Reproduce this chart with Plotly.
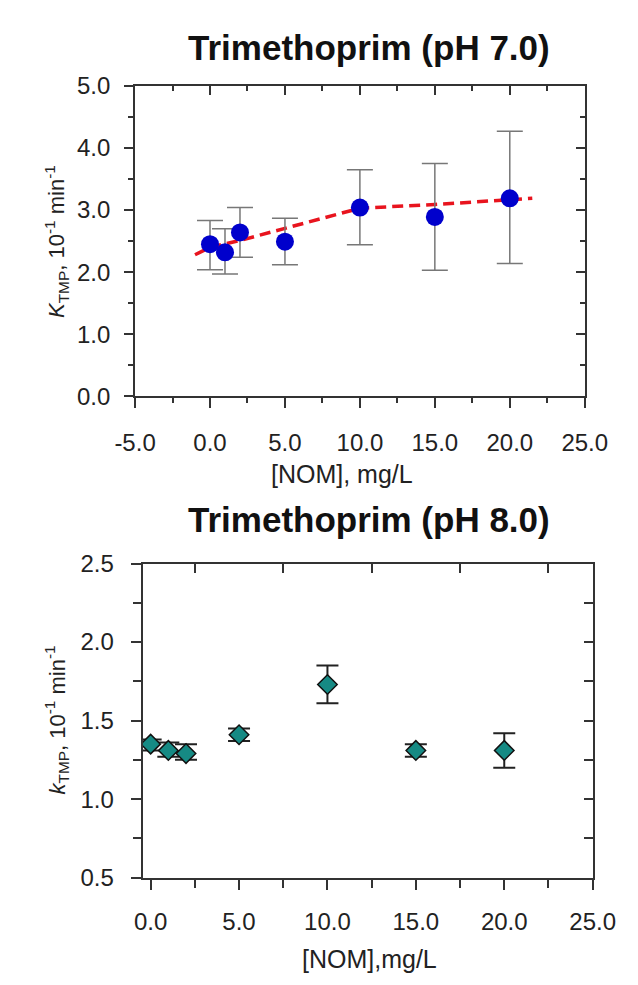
import plotly.graph_objects as go

# ---------------- data: Trimethoprim, pH 7.0 ----------------
nom_a = [0, 1, 2, 5, 10, 15, 20]
k_a = [2.45, 2.32, 2.64, 2.49, 3.04, 2.89, 3.19]
k_a_hi = [2.83, 2.70, 3.04, 2.87, 3.65, 3.75, 4.27]
k_a_lo = [2.04, 1.97, 2.24, 2.12, 2.44, 2.03, 2.14]
fit_x = [-1, 0, 2, 5, 8, 10, 15, 21.5]
fit_y = [2.28, 2.40, 2.51, 2.71, 2.91, 3.03, 3.09, 3.19]

# ---------------- data: Trimethoprim, pH 8.0 ----------------
nom_b = [0, 1, 2, 5, 10, 15, 20]
k_b = [1.35, 1.31, 1.29, 1.41, 1.73, 1.31, 1.31]
k_b_hi = [1.38, 1.36, 1.35, 1.45, 1.85, 1.35, 1.42]
k_b_lo = [1.31, 1.27, 1.25, 1.37, 1.61, 1.27, 1.20]

# ---------------- tick labels ----------------
xa_ticks = [-5, 0, 5, 10, 15, 20, 25]
xa_text = ["-5.0", "0.0", "5.0", "10.0", "15.0", "20.0", "25.0"]
ya_ticks = [0, 1, 2, 3, 4, 5]
ya_text = ["0.0", "1.0", "2.0", "3.0", "4.0", "5.0"]
xb_ticks = [0, 5, 10, 15, 20, 25]
xb_text = ["0.0", "5.0", "10.0", "15.0", "20.0", "25.0"]
yb_ticks = [0.5, 1.0, 1.5, 2.0, 2.5]
yb_text = ["0.5", "1.0", "1.5", "2.0", "2.5"]

W, H = 638, 985
FONT = "Liberation Sans, Arial, sans-serif"
AX = "#333333"
TXT = "#222222"


def mids(v):
    return [(a + b) / 2 for a, b in zip(v[:-1], v[1:])]


fig = go.Figure()

# pH 7.0 panel
fig.add_trace(go.Scatter(
    x=fit_x, y=fit_y, mode="lines", xaxis="x", yaxis="y",
    line=dict(color="#e8141e", width=3.5, dash="11px,6px"),
    hoverinfo="skip"))
fig.add_trace(go.Scatter(
    x=nom_a, y=k_a, mode="markers", xaxis="x", yaxis="y",
    marker=dict(symbol="circle", size=18, color="#0000cc"),
    error_y=dict(type="data", symmetric=False,
                 array=[h - v for h, v in zip(k_a_hi, k_a)],
                 arrayminus=[v - l for v, l in zip(k_a, k_a_lo)],
                 color="#777777", thickness=1.5, width=13)))

# pH 8.0 panel
fig.add_trace(go.Scatter(
    x=nom_b, y=k_b, mode="markers", xaxis="x2", yaxis="y2",
    marker=dict(symbol="diamond", size=15, color="#168a84",
                line=dict(color="#111111", width=1.5)),
    error_y=dict(type="data", symmetric=False,
                 array=[h - v for h, v in zip(k_b_hi, k_b)],
                 arrayminus=[v - l for v, l in zip(k_b, k_b_lo)],
                 color="#222222", thickness=2, width=11)))

# empty traces so overlay (inside-tick) axes are drawn
for xa, ya in [("x3", "y3"), ("x4", "y4")]:
    fig.add_trace(go.Scatter(x=[], y=[], xaxis=xa, yaxis=ya,
                             mode="markers", hoverinfo="skip"))

tickfont = dict(family=FONT, size=24, color=TXT)

xa_dom = [122.5 / W, 605.5 / W]
ya_dom = [1 - 393 / H, 1 - 74 / H]
xb_dom = [130.7 / W, 614 / W]
yb_dom = [1 - 888 / H, 1 - 565 / H]

base = dict(showgrid=False, zeroline=False, showline=True, linecolor=AX,
            linewidth=2, mirror=True, tickcolor=AX, tickwidth=1.5,
            tickfont=tickfont, fixedrange=True)

fig.update_layout(
    width=W, height=H, margin=dict(l=0, r=0, t=0, b=0),
    paper_bgcolor="white", plot_bgcolor="white", showlegend=False,
    font=dict(family=FONT, color=TXT),
    xaxis=dict(base, domain=xa_dom, range=[-5, 25], anchor="y",
               tickmode="array", tickvals=xa_ticks, ticktext=xa_text,
               ticks="outside", ticklen=10, ticklabelstandoff=14,
               minor=dict(tickmode="array", tickvals=mids(xa_ticks),
                          ticks="outside", ticklen=5, tickcolor=AX,
                          tickwidth=1.5)),
    yaxis=dict(base, domain=ya_dom, range=[0, 5], anchor="x",
               tickmode="array", tickvals=ya_ticks, ticktext=ya_text,
               ticks="outside", ticklen=9, ticklabelstandoff=9,
               minor=dict(tickmode="array", tickvals=mids(ya_ticks),
                          ticks="outside", ticklen=5, tickcolor=AX,
                          tickwidth=1.5)),
    xaxis3=dict(showgrid=False, zeroline=False, showline=False,
                overlaying="x", anchor="y", side="top", range=[-5, 25],
                tickmode="array", tickvals=xa_ticks, showticklabels=False,
                ticks="inside", ticklen=9, tickcolor=AX, tickwidth=1.5,
                minor=dict(tickmode="array", tickvals=mids(xa_ticks),
                           ticks="inside", ticklen=5, tickcolor=AX,
                           tickwidth=1.5), fixedrange=True),
    yaxis3=dict(showgrid=False, zeroline=False, showline=False,
                overlaying="y", anchor="x", side="right", range=[0, 5],
                tickmode="array", tickvals=ya_ticks, showticklabels=False,
                ticks="inside", ticklen=9, tickcolor=AX, tickwidth=1.5,
                minor=dict(tickmode="array", tickvals=mids(ya_ticks),
                           ticks="inside", ticklen=5, tickcolor=AX,
                           tickwidth=1.5), fixedrange=True),
    xaxis2=dict(base, domain=xb_dom, range=[-0.45, 25], anchor="y2",
                tickmode="array", tickvals=xb_ticks, ticktext=xb_text,
                ticks="outside", ticklen=10, ticklabelstandoff=12,
                minor=dict(tickmode="array", tickvals=mids(xb_ticks),
                           ticks="outside", ticklen=8, tickcolor=AX,
                           tickwidth=1.5)),
    yaxis2=dict(base, domain=yb_dom, range=[0.5, 2.5], anchor="x2",
                tickmode="array", tickvals=yb_ticks, ticktext=yb_text,
                ticks="outside", ticklen=10, ticklabelstandoff=12,
                minor=dict(tickmode="array", tickvals=mids(yb_ticks),
                           ticks="outside", ticklen=8, tickcolor=AX,
                           tickwidth=1.5)),
    xaxis4=dict(showgrid=False, zeroline=False, showline=False,
                overlaying="x2", anchor="y2", side="top", range=[-0.45, 25],
                tickmode="array", tickvals=mids(xb_ticks),
                showticklabels=False, ticks="inside", ticklen=9,
                tickcolor=AX, tickwidth=1.5, fixedrange=True),
    yaxis4=dict(showgrid=False, zeroline=False, showline=False,
                overlaying="y2", anchor="x2", side="right", range=[0.5, 2.5],
                tickmode="array", tickvals=yb_ticks, showticklabels=False,
                ticks="inside", ticklen=9, tickcolor=AX, tickwidth=1.5,
                minor=dict(tickmode="array", tickvals=mids(yb_ticks),
                           ticks="inside", ticklen=9, tickcolor=AX,
                           tickwidth=1.5), fixedrange=True),
)

ann = [
    dict(text="<b>Trimethoprim (pH 7.0)</b>", x=374 / W, y=1 - 34 / H,
         font=dict(size=35, color="#111111")),
    dict(text="<b>Trimethoprim (pH 8.0)</b>", x=374 / W, y=1 - 520 / H,
         font=dict(size=35, color="#111111")),
    dict(text="[NOM], mg/L", x=345 / W, y=1 - 473 / H,
         font=dict(size=25, color=TXT)),
    dict(text="[NOM],mg/L", x=374 / W, y=1 - 972 / H,
         font=dict(size=25, color=TXT)),
    dict(text="<i>K</i><sub>TMP</sub>, 10<sup>-1</sup> min<sup>-1</sup>",
         x=38 / W, y=1 - 234 / H, textangle=-90,
         font=dict(size=22, color=TXT)),
    dict(text="<i>k</i><sub>TMP</sub>, 10<sup>-1</sup> min<sup>-1</sup>",
         x=38 / W, y=1 - 726 / H, textangle=-90,
         font=dict(size=22, color=TXT)),
]
for a in ann:
    a.update(xref="paper", yref="paper", showarrow=False,
             xanchor="center", yanchor="middle")
    a["font"]["family"] = FONT
fig.update_layout(annotations=ann)

fig.write_html("out.html")
